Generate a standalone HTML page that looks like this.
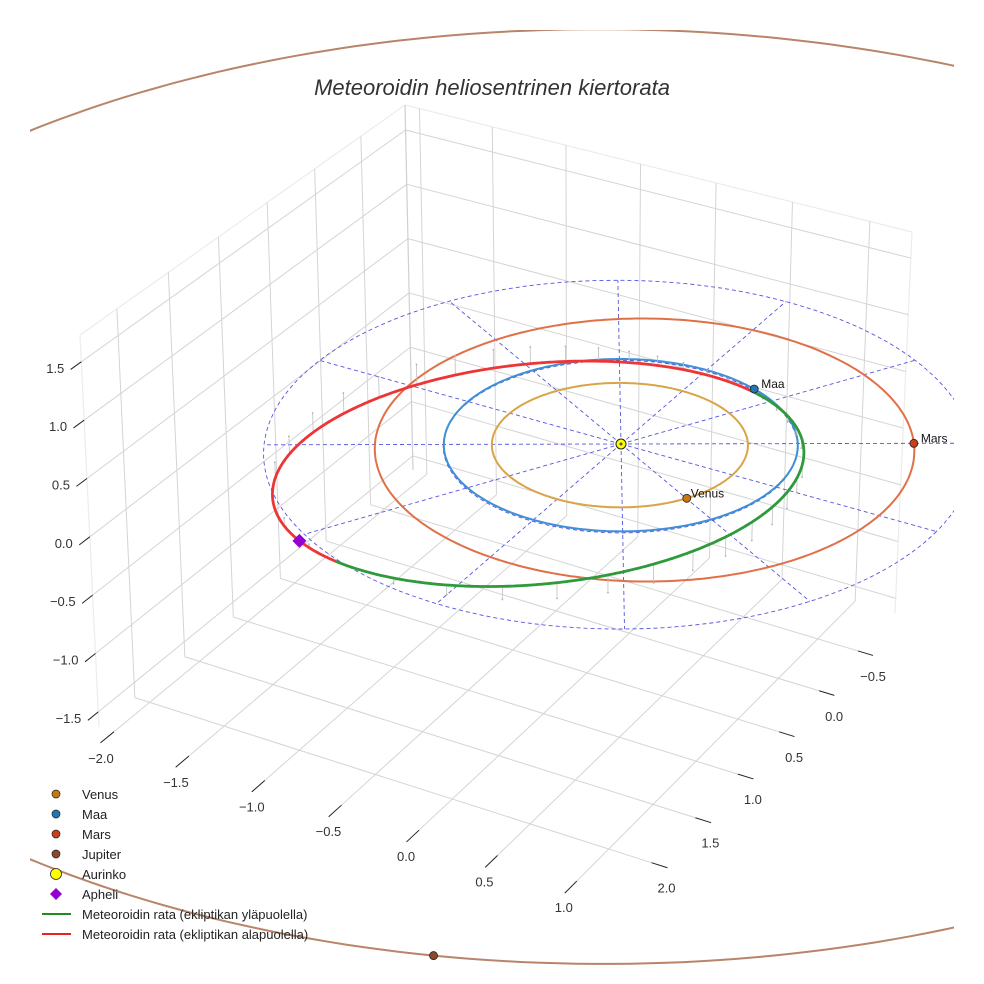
<!DOCTYPE html>
<html><head><meta charset="utf-8"><style>
html,body{margin:0;padding:0;background:#fff;}
svg{display:block;font-family:"Liberation Sans",sans-serif;}
</style></head><body>
<svg id="chart" width="984" height="984" viewBox="0 0 984 984" xmlns="http://www.w3.org/2000/svg">
<defs><clipPath id="clip"><rect x="30" y="30" width="924" height="943"/></clipPath></defs>
<rect width="984" height="984" fill="#fff"/>
<g id="grid"></g>
<g id="plot" clip-path="url(#clip)"></g>
<g id="ticks"></g>
<text x="492" y="95" text-anchor="middle" font-size="22" font-style="italic" fill="#333">Meteoroidin heliosentrinen kiertorata</text>
<g id="legend"></g>
</svg>
<script>
// ---- data ----
const xTicks = [-2.0, -1.5, -1.0, -0.5, 0.0, 0.5, 1.0];
const yTicks = [-0.5, 0.0, 0.5, 1.0, 1.5, 2.0];
const zTicks = [-1.5, -1.0, -0.5, 0.0, 0.5, 1.0, 1.5];
const xLim = [-2.1, 1.27];
const yLim = [-0.99, 2.35];
const zLim = [-1.63, 1.73];
const planetNames = ["Venus", "Maa", "Mars", "Jupiter"];
const planetSemiAxis = [0.723, 1.0, 1.524, 5.2];
const planetEcc = [0.007, 0.0167, 0.093, 0.048];
const planetPeriLon = [0, 70, 150, 60];
const planetLon = [30, -70, -30, 71];
const planetOrbitColors = ["#d9a447", "#3d8fd6", "#e07048", "#b8856a"];
const planetDotColors = ["#c8780e", "#1f77b4", "#c8401a", "#8b4a2b"];
const gridRadii = [1, 2];
const gridSpokes = [0, 30, 60, 90, 120, 150, 180, 210, 240, 270, 300, 330];
const meteorA = [1.505];
const meteorE = [0.349];
const meteorPeriLon = [-60];
const meteorNode = [-70];
const meteorIncl = [7];
const aphelionLon = [120];

// ---- projection (screen corners of axes box) ----
const botC = [[413,470],[99,727],[620,895],[895,613]];
const topC = [[405,105],[80,335],[622,485],[912,232]];
function homog(dst){
  const src=[[xLim[0],yLim[0]],[xLim[0],yLim[1]],[xLim[1],yLim[1]],[xLim[1],yLim[0]]];
  const A=[],b=[];
  for(let i=0;i<4;i++){const [x,y]=src[i],[X,Y]=dst[i];
    A.push([x,y,1,0,0,0,-X*x,-X*y]);b.push(X);
    A.push([0,0,0,x,y,1,-Y*x,-Y*y]);b.push(Y);}
  const n=8;for(let i=0;i<n;i++){let m=i;for(let k=i+1;k<n;k++)if(Math.abs(A[k][i])>Math.abs(A[m][i]))m=k;
    [A[i],A[m]]=[A[m],A[i]];[b[i],b[m]]=[b[m],b[i]];
    for(let k=0;k<n;k++){if(k===i)continue;const f=A[k][i]/A[i][i];for(let j=i;j<n;j++)A[k][j]-=f*A[i][j];b[k]-=f*b[i];}}
  const h=b.map((v,i)=>v/A[i][i]);
  return (x,y)=>{const w=h[6]*x+h[7]*y+1;return [(h[0]*x+h[1]*y+h[2])/w,(h[3]*x+h[4]*y+h[5])/w];};
}
const Hb=homog(botC), Ht=homog(topC);
function P(x,y,z){const b=Hb(x,y),t=Ht(x,y),w=(z-zLim[0])/(zLim[1]-zLim[0]);return [b[0]+(t[0]-b[0])*w,b[1]+(t[1]-b[1])*w];}
const S0=P(0,0,0);
// plot-content projection, calibrated around the sun position
function Q(x,y,z){const p=P(x,y,z);const dy=p[1]-S0[1];return [621+(p[0]-S0[0])*1.02, 444+dy*(1+0.04*Math.abs(dy)/450)];}
const NS="http://www.w3.org/2000/svg";
function mk(tag,attrs,parent){const e=document.createElementNS(NS,tag);for(const k in attrs)e.setAttribute(k,attrs[k]);parent.appendChild(e);return e;}
function pathOf(pts){return pts.map((p,i)=>(i?"L":"M")+p[0].toFixed(1)+" "+p[1].toFixed(1)).join("");}
function line3(a,b,par,st,F){F=F||P;const p=F(...a),q=F(...b);return mk("line",Object.assign({x1:p[0],y1:p[1],x2:q[0],y2:q[1]},st),par);}
const grid=document.getElementById("grid"),plot=document.getElementById("plot"),ticks=document.getElementById("ticks"),leg=document.getElementById("legend");
const gst={stroke:"#d4d4d4","stroke-width":1};
const [x0,x1]=xLim,[y0,y1]=yLim,[z0,z1]=zLim;
// pane edges
[[[x0,y0,z1],[x0,y1,z1]],[[x0,y0,z1],[x1,y0,z1]],[[x0,y1,z0],[x0,y1,z1]],[[x1,y0,z0],[x1,y0,z1]]].forEach(s=>{
  const e=line3(s[0],s[1],grid,{stroke:"#ececec","stroke-width":1.2});
  });
xTicks.forEach(v=>{const e=line3([v,y0,z0],[v,y1,z0],grid,gst);});
yTicks.forEach(v=>{const e=line3([x0,v,z0],[x1,v,z0],grid,gst);});
yTicks.forEach(v=>{const e=line3([x0,v,z0],[x0,v,z1],grid,gst);});
zTicks.forEach(v=>{const e=line3([x0,y0,v],[x0,y1,v],grid,gst);});
xTicks.forEach(v=>{const e=line3([v,y0,z0],[v,y0,z1],grid,gst);});
zTicks.forEach(v=>{const e=line3([x0,y0,v],[x1,y0,v],grid,gst);});
const be=line3([x0,y0,z0],[x0,y0,z1],grid,{stroke:"#cfcfcf","stroke-width":1.2});


// tick marks & labels
const fmt=v=>(v<0?"\u2212":"")+Math.abs(v).toFixed(1);
xTicks.forEach(v=>{const a=P(v,y1,z0);const e=line3([v,y1,z0],[v,y1+0.13,z0],ticks,{stroke:"#222","stroke-width":1});
  
  const t=mk("text",{x:a[0]-13,y:a[1]+31,"text-anchor":"middle","font-size":13,fill:"#333"},ticks);t.textContent=fmt(v);
  });
yTicks.forEach(v=>{const a=P(x1,v,z0);const e=line3([x1,v,z0],[x1+0.1,v,z0],ticks,{stroke:"#222","stroke-width":1});
  
  const t=mk("text",{x:a[0]+15,y:a[1]+30,"text-anchor":"middle","font-size":13,fill:"#333"},ticks);t.textContent=fmt(v);
  });
zTicks.forEach(v=>{const a=P(x0,y1,v);const e=line3([x0,y1,v],[x0,y1+0.1,v],ticks,{stroke:"#222","stroke-width":1});
  
  const t=mk("text",{x:a[0]-17,y:a[1]+11,"text-anchor":"end","font-size":13,fill:"#333"},ticks);t.textContent=fmt(v);
  });
// ecliptic dashed grid
const dst={fill:"none",stroke:"#5555e0","stroke-width":0.9,"stroke-dasharray":"4 3"};
gridRadii.forEach(r=>{const pts=[];for(let a=0;a<=360;a+=2){const t=a*Math.PI/180;pts.push(Q(r*Math.cos(t),r*Math.sin(t),0));}
  const e=mk("path",Object.assign({d:pathOf(pts)},dst),plot);});
const rMax=Math.max(...gridRadii);
gridSpokes.forEach(a=>{const t=a*Math.PI/180;const e=line3([0,0,0],[rMax*Math.cos(t),rMax*Math.sin(t),0],plot,dst,Q);
  });
// planet orbits
function orbitR(a,e,peri,lon){return a*(1-e*e)/(1+e*Math.cos((lon-peri)*Math.PI/180));}
planetNames.forEach((n,i)=>{const pts=[];for(let a=0;a<=360;a+=1){const r=orbitR(planetSemiAxis[i],planetEcc[i],planetPeriLon[i],a),t=a*Math.PI/180;pts.push(Q(r*Math.cos(t),r*Math.sin(t),0));}
  const e=mk("path",{d:pathOf(pts),fill:"none",stroke:planetOrbitColors[i],"stroke-width":2},plot);
  });
// meteoroid orbit
const mA=meteorA[0],mE=meteorE[0],mW=meteorPeriLon[0],mN=meteorNode[0],mI=meteorIncl[0]*Math.PI/180;
function met(a){const r=orbitR(mA,mE,mW,a),t=a*Math.PI/180;return [r*Math.cos(t),r*Math.sin(t),r*Math.sin(mI)*Math.sin((a-mN)*Math.PI/180)];}
for(let a=0;a<360;a+=9){const m=met(a);const e=line3(m,[m[0],m[1],0],plot,{stroke:"#c0c0c0","stroke-width":0.8},Q);
  
  const q=Q(m[0],m[1],0);const d=mk("circle",{cx:q[0],cy:q[1],r:0.9,fill:"#b0b0b0"},plot);}
let seg=[],segUp=null;
function flush(){if(seg.length>1){const e=mk("path",{d:pathOf(seg),fill:"none",stroke:segUp?"#2e9a3a":"#ee3535","stroke-width":2.8,"stroke-linecap":"round"},plot);
  }}
for(let a=0;a<=360;a+=0.5){const m=met(a),up=m[2]>=0;if(segUp!==null&&up!==segUp){const p=Q(...m);seg.push(p);flush();seg=[p];}segUp=up;seg.push(Q(...m));}
flush();
// planets
planetNames.forEach((n,i)=>{const r=orbitR(planetSemiAxis[i],planetEcc[i],planetPeriLon[i],planetLon[i]),t=planetLon[i]*Math.PI/180;
  const p=Q(r*Math.cos(t),r*Math.sin(t),0);
  const c=mk("circle",{cx:p[0],cy:p[1],r:4,fill:planetDotColors[i],stroke:"#222","stroke-width":0.8},plot);
  
  const jup=n==="Jupiter";
  const tx=mk("text",{x:jup?p[0]-10:p[0]+(n==="Venus"?4:7),y:jup?p[1]+26:p[1]-1,"font-size":12,fill:"#111"},plot);tx.textContent=n;
  });
// sun
const s=Q(0,0,0);
const sc=mk("circle",{cx:s[0],cy:s[1],r:5,fill:"#ffff00",stroke:"#222","stroke-width":1},plot);
const sd=mk("circle",{cx:s[0],cy:s[1],r:1.5,fill:"#555"},plot);
// aphelion
const ap=met(aphelionLon[0]),app=Q(...ap);
const dm=mk("path",{d:`M${app[0]} ${app[1]-7}L${app[0]+7} ${app[1]}L${app[0]} ${app[1]+7}L${app[0]-7} ${app[1]}Z`,fill:"#9400d3"},plot);

// legend
const legLabels=["Venus","Maa","Mars","Jupiter","Aurinko","Apheli","Meteoroidin rata (ekliptikan yläpuolella)","Meteoroidin rata (ekliptikan alapuolella)"];
legLabels.forEach((l,i)=>{const y=794+i*20;const g=mk("g",{},leg);
  
  
  if(i<4){mk("circle",{cx:56,cy:y,r:4,fill:planetDotColors[i],stroke:"#222","stroke-width":0.7},g);}
  else if(i===4){mk("circle",{cx:56,cy:y,r:5.5,fill:"#ffff00",stroke:"#222","stroke-width":0.8},g);}
  else if(i===5){mk("path",{d:`M56 ${y-6}L62 ${y}L56 ${y+6}L50 ${y}Z`,fill:"#9400d3"},g);}
  else{mk("line",{x1:42,y1:y,x2:71,y2:y,stroke:i===6?"#228b22":"#e8221e","stroke-width":2},g);}
  const t=mk("text",{x:82,y:y+5,"font-size":13,fill:"#222"},g);t.textContent=l;});
</script>
</body></html>
